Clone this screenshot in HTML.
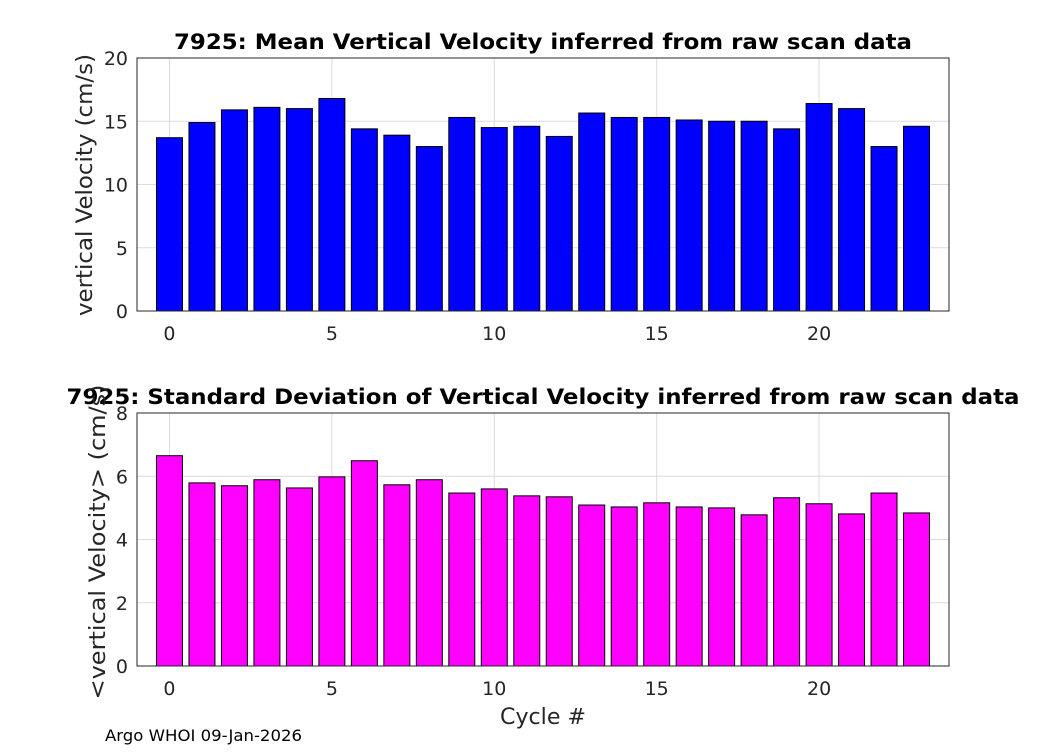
<!DOCTYPE html>
<html><head><meta charset="utf-8"><style>
body{margin:0;background:#fff;}
svg text{font-family:"DejaVu Sans","Liberation Sans",sans-serif;fill:#262626;}
</style></head><body>
<svg id="c" width="1050" height="750" xmlns="http://www.w3.org/2000/svg">
<rect width="1050" height="750" fill="#fff"/>
</svg>
<script>
const cycles=[0,1,2,3,4,5,6,7,8,9,10,11,12,13,14,15,16,17,18,19,20,21,22,23];
const meanVel=[13.7,14.9,15.9,16.1,16.0,16.8,14.4,13.9,13.0,15.3,14.5,14.6,13.8,15.65,15.3,15.3,15.1,15.0,15.0,14.4,16.4,16.0,13.0,14.6];
const stdVel=[6.65,5.79,5.70,5.89,5.63,5.98,6.49,5.73,5.89,5.47,5.60,5.38,5.35,5.09,5.03,5.16,5.03,5.0,4.78,5.32,5.13,4.81,5.47,4.84];
const xTicks=[0,5,10,15,20];
const yTicksTop=[0,5,10,15,20];
const yTicksBot=[0,2,4,6,8];
const svg=document.getElementById('c');
const NS='http://www.w3.org/2000/svg';
function mk(t,a,txt){const e=document.createElementNS(NS,t);for(const k in a)e.setAttribute(k,a[k]);if(txt!==undefined)e.textContent=txt;svg.appendChild(e);return e;}
function panel(o){
  const L=137,R=949,T=o.top,B=o.bot;
  const xs=v=>L+(v+1)/25*(R-L);
  const ys=v=>B-(v-o.ymin)/(o.ymax-o.ymin)*(B-T);
  const bg=mk('rect',{x:L,y:T,width:R-L,height:B-T,fill:'#fff'});
  
  
  xTicks.forEach(v=>{
    const g=mk('line',{x1:xs(v),x2:xs(v),y1:T,y2:B,stroke:'#dcdcdc','stroke-width':1});
    
    
    const t=mk('text',{x:xs(v),y:B+29,'text-anchor':'middle','font-size':19},v);
    
    
  });
  o.yt.forEach(v=>{
    const g=mk('line',{x1:L,x2:R,y1:ys(v),y2:ys(v),stroke:'#dcdcdc','stroke-width':1});
    
    
    const t=mk('text',{x:L-9,y:ys(v)+7,'text-anchor':'end','font-size':19},v);
    
    
  });
  const bw=0.8*(R-L)/25;
  cycles.forEach((c,i)=>{
    const v=o.vals[i];
    const b=mk('rect',{x:xs(c)-bw/2,y:ys(v),width:bw,height:ys(o.ymin)-ys(v),fill:o.color,stroke:'#000','stroke-width':1});
    
    
  });
  const f=mk('rect',{x:L,y:T,width:R-L,height:B-T,fill:'none',stroke:'#262626','stroke-width':1});
  
  
  const ti=mk('text',{x:543,y:T-9,'text-anchor':'middle','font-size':21,'font-weight':'bold',textLength:o.tw,lengthAdjust:'spacingAndGlyphs',style:'fill:#000'},o.title);
  
  
  const yl=mk('text',{x:0,y:0,'text-anchor':'middle','font-size':22,textLength:o.yw,lengthAdjust:'spacingAndGlyphs',transform:'translate('+o.ylx+','+o.ylc+') rotate(-90)'},o.ylab);
  
  
}
panel({p:'mean',top:58,bot:311,ymin:0,ymax:20,yt:yTicksTop,vals:meanVel,color:'#0000ff',title:'7925: Mean Vertical Velocity inferred from raw scan data',tw:738,ylab:'vertical Velocity (cm/s)',yw:262,ylx:92,ylc:185});
panel({p:'std',top:413,bot:666,ymin:0,ymax:8,yt:yTicksBot,vals:stdVel,color:'#ff00ff',title:'7925: Standard Deviation of Vertical Velocity inferred from raw scan data',tw:953,ylab:'<vertical Velocity> (cm/s)',yw:315,ylx:105,ylc:542});
const xl=mk('text',{x:543,y:724,'text-anchor':'middle','font-size':22,textLength:86,lengthAdjust:'spacingAndGlyphs'},'Cycle #');


const fn=mk('text',{x:105,y:741,'font-size':16,textLength:197,lengthAdjust:'spacingAndGlyphs',style:'fill:#000'},'Argo WHOI 09-Jan-2026');


</script>
</body></html>
